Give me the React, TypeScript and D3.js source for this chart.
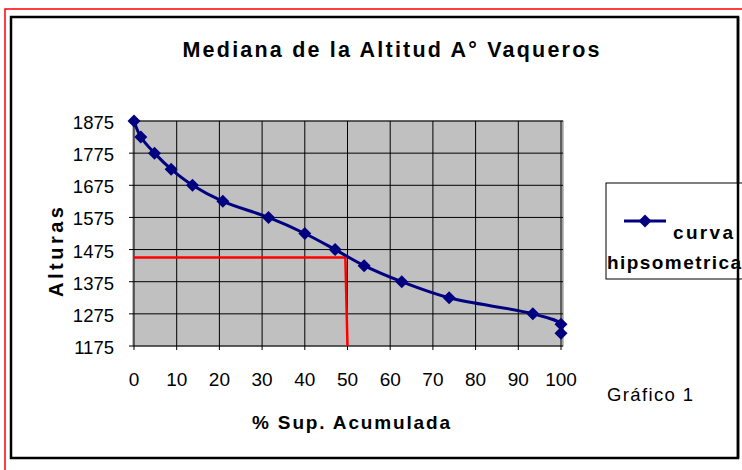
import React from 'react';
import * as d3 from 'd3';

// curva hipsometrica: % superficie acumulada vs altura
const pctAcum = [0, 1.6, 4.8, 8.7, 13.7, 20.8, 31.5, 40, 47.1, 53.9, 62.7, 73.8, 93.4, 100, 100];
const alturas = [1875, 1825, 1775, 1725, 1675, 1625, 1575, 1525, 1475, 1425, 1375, 1325, 1275, 1243, 1215];

// linea roja de la mediana
const medianaX = [0, 49.5, 50];
const medianaY = [1450, 1450, 1175];

const xTicks = [0, 10, 20, 30, 40, 50, 60, 70, 80, 90, 100];
const yTicks = [1175, 1275, 1375, 1475, 1575, 1675, 1775, 1875];

const margin = { left: 133, top: 121, right: 563, bottom: 346 };
const font = '"Liberation Sans", Arial, sans-serif';
const navy = '#000080';

export default function App() {
    const x = d3.scaleLinear().domain([0, 100]).range([134, 561]);
    const y = d3.scaleLinear().domain([1175, 1875]).range([margin.bottom, margin.top]);

    const points = pctAcum.map((d, i) => [x(d), y(alturas[i])] as [number, number]);
    const line = d3.line().curve(d3.curveCatmullRom.alpha(0.5))(points) || '';
    const median = d3.line()(medianaX.map((d, i) => [x(d), y(medianaY[i])] as [number, number])) || '';

    const diamond = (cx: number, cy: number, r: number) =>
        `M${cx},${cy - r}L${cx + r},${cy}L${cx},${cy + r}L${cx - r},${cy}Z`;

    return (
        <svg width={742} height={470} style={{ position: 'absolute', left: 0, top: 0, background: '#fff' }}>
            {/* marco rojo y marco negro */}
            <rect x={5} y={9} width={745} height={480} fill="none" stroke="#ff0000" strokeWidth={1.5} />
            <rect x={11} y={17} width={727} height={441} fill="#fff" stroke="#000" strokeWidth={2.5} />

            <text x={391} y={57} textAnchor="middle" fontFamily={font} fontWeight="bold" fontSize={21.5}
                textLength={417} lengthAdjust="spacing">Mediana de la Altitud A° Vaqueros</text>

            {/* area de trazado */}
            <rect x={margin.left} y={margin.top} width={margin.right - margin.left}
                height={margin.bottom - margin.top} fill="#c0c0c0" stroke="#808080" />
            {yTicks.map(t => (
                <line key={'gy' + t} x1={margin.left - 4} x2={margin.right} y1={y(t)} y2={y(t)} stroke="#000" />
            ))}
            {xTicks.map(t => (
                <line key={'gx' + t} x1={x(t)} x2={x(t)} y1={margin.top} y2={margin.bottom + 4} stroke="#000" />
            ))}
            {yTicks.map(t => (
                <text key={'ly' + t} x={114} y={y(t) + 8} textAnchor="end" fontFamily={font}
                    fontSize={18.5}>{t}</text>
            ))}
            {xTicks.map(t => (
                <text key={'lx' + t} x={x(t)} y={386} textAnchor="middle" fontFamily={font}
                    fontSize={19}>{t}</text>
            ))}

            <path d={median} fill="none" stroke="#ff0000" strokeWidth={2.5} />
            <path d={line} fill="none" stroke={navy} strokeWidth={3} />
            {points.map((p, i) => (
                <path key={'m' + i} d={diamond(p[0], p[1], 6.5)} fill={navy} />
            ))}

            <text x={351} y={429} textAnchor="middle" fontFamily={font} fontWeight="bold" fontSize={19}
                textLength={198} lengthAdjust="spacing">% Sup. Acumulada</text>
            <text transform="translate(62.5,252) rotate(-90)" textAnchor="middle" fontFamily={font}
                fontWeight="bold" fontSize={20} textLength={90} lengthAdjust="spacing">Alturas</text>
            <text x={607} y={401} fontFamily={font} fontSize={18.5} textLength={86}
                lengthAdjust="spacing">Gráfico 1</text>

            {/* leyenda */}
            <rect x={606} y={183} width={140} height={96} fill="#fff" stroke="#000" />
            <line x1={624} x2={666} y1={221} y2={221} stroke={navy} strokeWidth={3} />
            <path d={diamond(645, 221, 6.5)} fill={navy} />
            <text x={673} y={239} fontFamily={font} fontWeight="bold" fontSize={19} textLength={60}
                lengthAdjust="spacing">curva</text>
            <text x={607} y={269} fontFamily={font} fontWeight="bold" fontSize={19} textLength={134}
                lengthAdjust="spacing">hipsometrica</text>
            <line x1={738} x2={738} y1={17} y2={458} stroke="#000" strokeWidth={2.5} />
        </svg>
    );
}
